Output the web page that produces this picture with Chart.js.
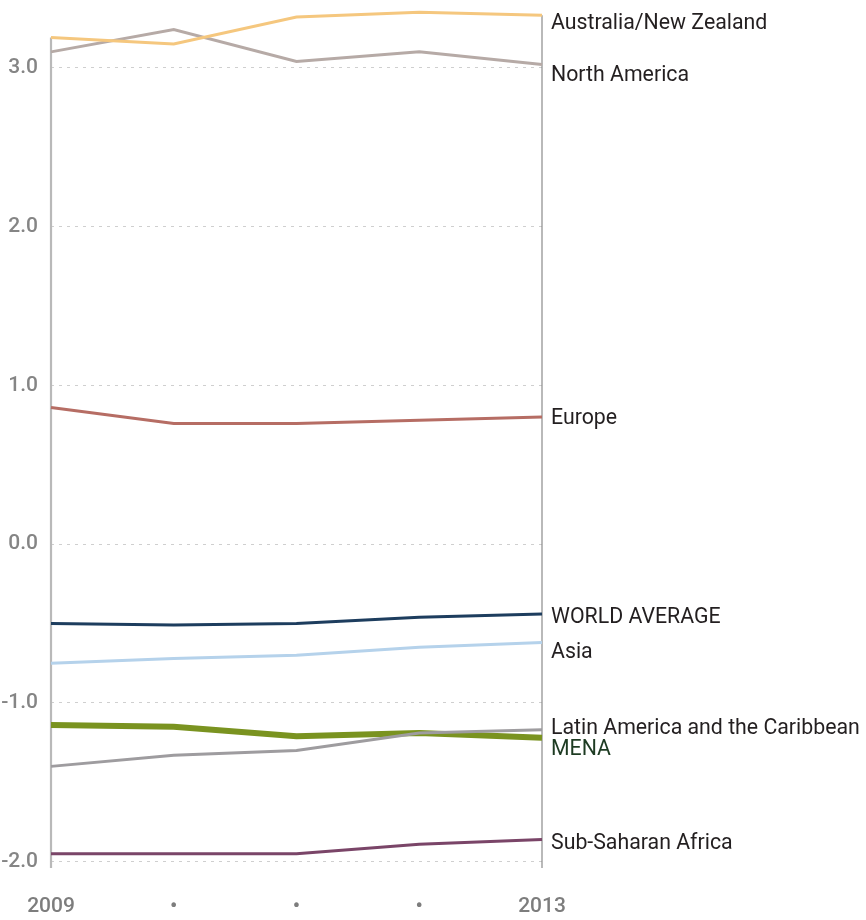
<!DOCTYPE html>
<html>
<head>
<meta charset="utf-8">
<script src="https://cdn.jsdelivr.net/npm/chart.js@4"></script>
<style>
  html, body { margin: 0; padding: 0; background: #fff; }
  #wrap { width: 866px; height: 920px; position: relative; }
</style>
</head>
<body>
<div id="wrap"><canvas id="c" width="866" height="920"></canvas></div>
<script>
// ---- data ----
const years = ['2009', '2010', '2011', '2012', '2013'];
const yTickValues = [-2, -1, 0, 1, 2, 3];

const ausNz        = [3.19, 3.15, 3.32, 3.35, 3.33];
const northAmerica = [3.10, 3.24, 3.04, 3.10, 3.02];
const europe       = [0.86, 0.76, 0.76, 0.78, 0.80];
const worldAverage = [-0.50, -0.51, -0.50, -0.46, -0.44];
const asia         = [-0.75, -0.72, -0.70, -0.65, -0.62];
const latinAmerica = [-1.40, -1.33, -1.30, -1.19, -1.17];
const mena         = [-1.14, -1.15, -1.21, -1.19, -1.22];
const subSaharan   = [-1.95, -1.95, -1.95, -1.89, -1.86];

const seriesNames = ['Australia/New Zealand', 'North America', 'Europe', 'WORLD AVERAGE',
                     'Asia', 'Latin America and the Caribbean', 'Sub-Saharan Africa', 'MENA'];

// ---- styles ----
const styles = [
  { data: ausNz,        color: '#f5c77e', width: 3, label: '#231f20', dy: 8 },
  { data: northAmerica, color: '#b6aaa6', width: 3, label: '#231f20', dy: 11 },
  { data: europe,       color: '#b66d64', width: 3, label: '#231f20', dy: 2 },
  { data: worldAverage, color: '#1d3d5e', width: 3, label: '#231f20', dy: 4 },
  { data: asia,         color: '#b5d2eb', width: 3, label: '#231f20', dy: 10 },
  { data: latinAmerica, color: '#9e9c9f', width: 3, label: '#231f20', dy: -1 },
  { data: subSaharan,   color: '#7a4568', width: 3, label: '#231f20', dy: 4 },
  { data: mena,         color: '#7a9320', width: 6, label: '#1d3b22', dy: 12 }
];

const datasets = styles.map((s, i) => ({
  label: seriesNames[i],
  data: s.data,
  borderColor: s.color,
  backgroundColor: s.color,
  borderWidth: s.width,
  pointRadius: 0,
  tension: 0,
  clip: false,
  labelColor: s.label,
  labelDy: s.dy
}));

const sideLines = {
  id: 'sideLines',
  beforeDatasetsDraw(chart) {
    const ctx = chart.ctx, x = chart.scales.x, y = chart.scales.y;
    const bottom = chart.chartArea.bottom;
    const defs = [{ idx: 0, color: '#b9b9b9', w: 2.2 }, { idx: years.length - 1, color: '#8a8a8a', w: 1.2 }];
    ctx.save();
    defs.forEach(d => {
      const px = x.getPixelForValue(d.idx);
      let top = Infinity;
      chart.data.datasets.forEach(ds => { top = Math.min(top, y.getPixelForValue(ds.data[d.idx])); });
      ctx.strokeStyle = d.color;
      ctx.lineWidth = d.w;
      ctx.beginPath();
      ctx.moveTo(px, top);
      ctx.lineTo(px, bottom);
      ctx.stroke();
    });
    ctx.restore();
  }
};

const endLabels = {
  id: 'endLabels',
  afterDatasetsDraw(chart) {
    const ctx = chart.ctx, x = chart.scales.x, y = chart.scales.y;
    const last = years.length - 1;
    ctx.save();
    ctx.font = '21.3px Roboto';
    ctx.textAlign = 'left';
    ctx.textBaseline = 'middle';
    chart.data.datasets.forEach(ds => {
      ctx.fillStyle = ds.labelColor;
      ctx.fillText(ds.label, x.getPixelForValue(last) + 9, y.getPixelForValue(ds.data[last]) + ds.labelDy);
    });
    ctx.restore();
  }
};

const tickFont = { family: 'Roboto', size: 21, weight: '500' };

new Chart(document.getElementById('c'), {
  type: 'line',
  data: { labels: years, datasets },
  plugins: [sideLines, endLabels],
  options: {
    responsive: false,
    animation: false,
    events: [],
    layout: { padding: { top: 9, right: 324, bottom: 0, left: 0 } },
    plugins: { legend: { display: false }, tooltip: { enabled: false } },
    scales: {
      x: {
        type: 'category',
        offset: false,
        grid: { display: false, drawTicks: false },
        border: { display: false },
        afterFit(s) { s.height = 52; s.paddingLeft = 0; s.paddingRight = 0; },
        ticks: {
          padding: 26,
          maxRotation: 0,
          autoSkip: false,
          color: '#7d7d7d',
          font: tickFont,
          callback(v, i) { return (i === 0 || i === years.length - 1) ? years[i] : '•'; }
        }
      },
      y: {
        min: -2.04,
        max: 3.37,
        afterFit(s) { s.width = 51; s.paddingTop = 0; s.paddingBottom = 0; },
        afterBuildTicks(s) { s.ticks = yTickValues.map(v => ({ value: v })); },
        grid: { color: '#cfcfcf', lineWidth: 1, drawTicks: false },
        border: { display: false, dash: [3, 5] },
        ticks: {
          padding: 13,
          color: '#858585',
          font: tickFont,
          callback(v) { return v.toFixed(1); }
        }
      }
    }
  }
});
</script>
</body>
</html>
